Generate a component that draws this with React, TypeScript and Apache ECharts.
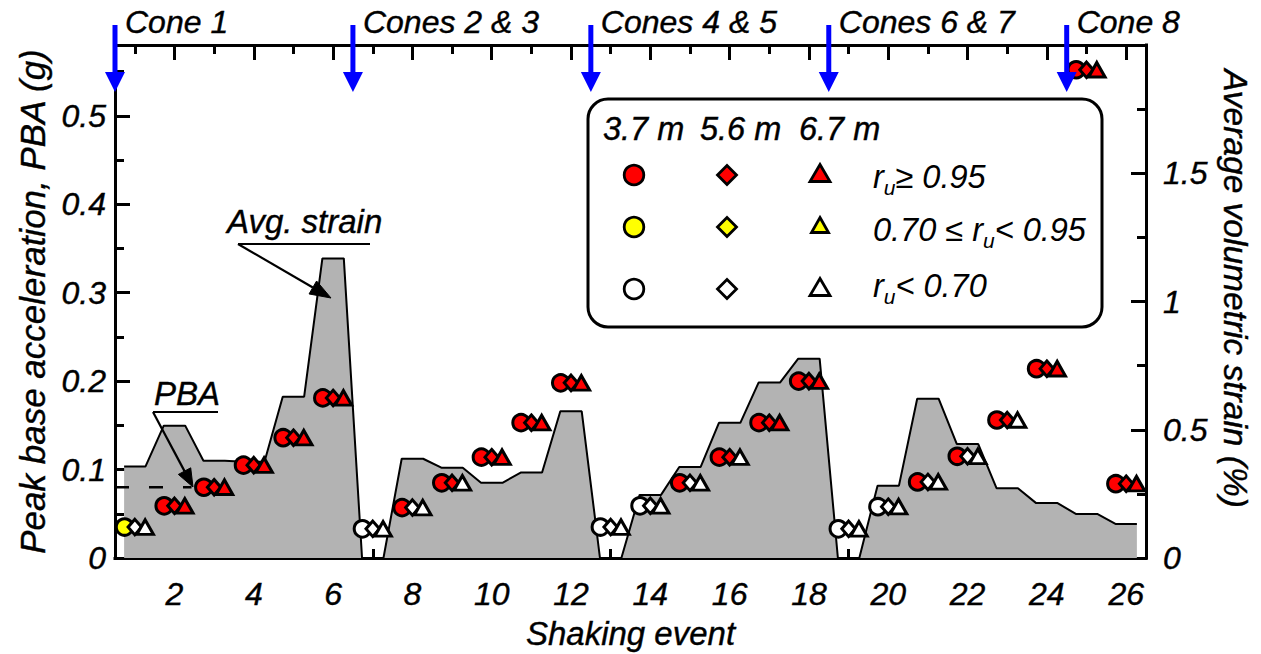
import React, { useEffect, useRef } from "react";
import * as echarts from "echarts";

const FONT = '"Liberation Sans", Arial, Helvetica, sans-serif';

// ---------- data ----------
const events = [1, 2, 3, 4, 5, 6, 7, 8, 9, 10, 11, 12, 13, 14, 15, 16, 17, 18, 19, 20, 21, 22, 23, 24, 25, 26];
const pba = [0.035, 0.059, 0.080, 0.105, 0.136, 0.181, 0.033, 0.057, 0.085, 0.114, 0.153, 0.198, 0.035,
  0.059, 0.085, 0.114, 0.153, 0.200, 0.033, 0.058, 0.086, 0.115, 0.156, 0.214, 0.552, 0.084];
const avgStrain = [0.357, 0.516, 0.379, 0.375, 0.629, 1.168, 0, 0.387, 0.352, 0.293, 0.333, 0.572, 0,
  0.246, 0.355, 0.527, 0.684, 0.777, 0, 0.282, 0.621, 0.444, 0.272, 0.214, 0.172, 0.133];
// r_u class per event: R = r_u >= 0.95, Y = 0.70 <= r_u < 0.95, W = r_u < 0.70
const ru37 = ["Y", "R", "R", "R", "R", "R", "W", "R", "R", "R", "R", "R", "W", "W", "R", "R", "R", "R", "W", "W", "R", "R", "R", "R", "R", "R"];
const ru56 = ["W", "R", "R", "R", "R", "R", "W", "W", "R", "R", "R", "R", "W", "W", "W", "R", "R", "R", "W", "W", "W", "W", "R", "R", "R", "R"];
const ru67 = ["W", "R", "R", "R", "R", "R", "W", "W", "W", "R", "R", "R", "W", "W", "W", "W", "R", "R", "W", "W", "W", "W", "W", "R", "R", "R"];
const xMajorTicks = [2, 4, 6, 8, 10, 12, 14, 16, 18, 20, 22, 24, 26];
const xMinorTicks = [1, 3, 5, 7, 9, 11, 13, 15, 17, 19, 21, 23, 25];
const coneX = [0.5, 6.5, 12.5, 18.5, 24.5];
const coneLabels = ["Cone 1", "Cones 2 & 3", "Cones 4 & 5", "Cones 6 & 7", "Cone 8"];
const depthLabels = ["3.7 m", "5.6 m", "6.7 m"];
const ruClasses = ["R", "Y", "W"];
const refEventIndex = 2; // event whose PBA is marked by the dashed line
const refLineX = [0.5, 2.43];

const colorOf: Record<string, string> = { R: "#ff0000", Y: "#ffff00", W: "#ffffff" };

const STEP_HALF = 0.27;
const strainPts = events.flatMap((e, i) => [
  [e - STEP_HALF, avgStrain[i]],
  [e + STEP_HALF, avgStrain[i]],
]);

const depthDefs = [
  { name: depthLabels[0], status: ru37, offset: -0.26, symbol: "circle", size: 16.5 as any, z: 3 },
  { name: depthLabels[1], status: ru56, offset: 0, symbol: "diamond", size: [13.5, 15.5] as any, z: 4 },
  { name: depthLabels[2], status: ru67, offset: 0.26, symbol: "triangle", size: [16.5, 14.5] as any, z: 5 },
];

const TB = { textBorderColor: "#000", textBorderWidth: 0.4 };
const labelStyle = { fontSize: 32, fontStyle: "italic", fontFamily: FONT, color: "#000", ...TB };
const nameStyle = { fontSize: 33, fontStyle: "italic", fontFamily: FONT, color: "#000", ...TB };
const axisLineStyle = { color: "#000", width: 3, cap: "square" };

function xAxisDef(position: string, ticks: number[], len: number, line: boolean, labels: boolean, extra: any = {}) {
  return {
    type: "value",
    min: 0.5,
    max: 26.5,
    position,
    axisLine: { show: line, onZero: false, lineStyle: axisLineStyle },
    axisTick: { show: true, inside: true, length: len, lineStyle: { color: "#000", width: 3 }, customValues: ticks },
    axisLabel: labels ? { show: true, customValues: ticks, margin: 20, ...labelStyle } : { show: false },
    splitLine: { show: false },
    minorTick: { show: false },
    ...extra,
  };
}

const option: any = {
  animation: false,
  backgroundColor: "#ffffff",
  grid: { left: 115, right: 115, top: 45, bottom: 96, containLabel: false, outerBoundsMode: "none" },
  xAxis: [
    xAxisDef("bottom", xMajorTicks, 15, true, true, {
      name: "Shaking event",
      nameLocation: "middle",
      nameGap: 59,
      nameTextStyle: nameStyle,
    }),
    xAxisDef("bottom", xMinorTicks, 9, false, false),
    xAxisDef("top", xMajorTicks, 15, true, false),
    xAxisDef("top", xMinorTicks, 9, false, false),
  ],
  yAxis: [
    {
      type: "value",
      position: "left",
      min: 0,
      max: 0.58,
      interval: 0.1,
      axisLine: { show: true, onZero: false, lineStyle: axisLineStyle },
      axisTick: { show: true, inside: true, length: 15, lineStyle: { color: "#000", width: 3 } },
      minorTick: { show: true, splitNumber: 2, length: 9, lineStyle: { color: "#000", width: 3 } },
      axisLabel: { show: true, margin: 9, showMaxLabel: false, ...labelStyle },
      splitLine: { show: false },
      name: "Peak base acceleration, PBA (g)",
      nameLocation: "middle",
      nameRotate: 90,
      nameGap: 64,
      nameTextStyle: { ...nameStyle, fontSize: 35 },
    },
    {
      type: "value",
      position: "right",
      min: 0,
      max: 2,
      interval: 0.5,
      axisLine: { show: true, onZero: false, lineStyle: axisLineStyle },
      axisTick: { show: true, inside: true, length: 15, lineStyle: { color: "#000", width: 3 } },
      minorTick: { show: true, splitNumber: 2, length: 9, lineStyle: { color: "#000", width: 3 } },
      axisLabel: { show: true, margin: 17, showMaxLabel: false, ...labelStyle },
      splitLine: { show: false },
      name: "Average volumetric strain (%)",
      nameLocation: "middle",
      nameRotate: -90,
      nameGap: 70,
      nameTextStyle: { ...nameStyle, fontSize: 33.5, padding: [0, 26, 0, 0] },
    },
  ],
  series: [
    {
      name: "Avg. strain",
      type: "line",
      xAxisIndex: 0,
      yAxisIndex: 1,
      data: strainPts,
      symbol: "none",
      silent: true,
      z: 1,
      lineStyle: { color: "#000", width: 2 },
      areaStyle: { color: "#b3b3b3", opacity: 1 },
    },
    {
      name: "PBA reference",
      type: "line",
      xAxisIndex: 0,
      yAxisIndex: 0,
      data: refLineX.map((x) => [x, pba[refEventIndex]]),
      symbol: "none",
      silent: true,
      z: 2,
      lineStyle: { color: "#000", width: 2.5, type: [14, 20] },
    },
    ...depthDefs.map((d) => ({
      name: d.name,
      type: "scatter",
      xAxisIndex: 0,
      yAxisIndex: 0,
      symbol: d.symbol,
      symbolSize: d.size,
      z: d.z,
      silent: true,
      itemStyle: { borderColor: "#000", borderWidth: 3, opacity: 1 },
      data: events.map((e, i) => ({
        value: [e + d.offset, pba[i]],
        itemStyle: { color: colorOf[d.status[i]] },
      })),
    })),
  ],
};

function txt(text: string, x: number, y: number, size: number, align = "left", extra: any = {}) {
  return {
    type: "text",
    x,
    y,
    z: 100,
    silent: true,
    style: {
      text,
      fontSize: size,
      fontStyle: "italic",
      fontFamily: FONT,
      fill: "#000",
      stroke: "#000",
      lineWidth: 0.4,
      align,
      verticalAlign: "middle",
      ...extra,
    },
  };
}

function richTxt(text: string, x: number, y: number) {
  const base = { fontStyle: "italic", fontFamily: FONT, fill: "#000" };
  return {
    type: "text",
    x,
    y,
    z: 100,
    silent: true,
    style: {
      text,
      align: "left",
      verticalAlign: "middle",
      fill: "#000",
      rich: {
        m: { ...base, fontSize: 32.5, lineHeight: 42 },
        s: { ...base, fontSize: 21, lineHeight: 21, verticalAlign: "bottom" },
      },
    },
  };
}

function calloutArrow(x1: number, y1: number, x2: number, y2: number, headLen: number, headHalf: number) {
  const dx = x2 - x1;
  const dy = y2 - y1;
  const L = Math.hypot(dx, dy);
  const ux = dx / L;
  const uy = dy / L;
  const bx = x2 - ux * headLen;
  const by = y2 - uy * headLen;
  return [
    { type: "line", z: 100, silent: true, shape: { x1, y1, x2: bx, y2: by }, style: { stroke: "#000", lineWidth: 2.2 } },
    {
      type: "polygon",
      z: 100,
      silent: true,
      shape: { points: [[x2, y2], [bx - uy * headHalf, by + ux * headHalf], [bx + uy * headHalf, by - ux * headHalf]] },
      style: { fill: "#000", stroke: "#000", lineWidth: 1 },
    },
  ];
}

function legendMarker(kind: string, cx: number, cy: number, fill: string, small = false): any {
  const style = { fill, stroke: "#000", lineWidth: 2.8 };
  if (kind === "circle") return { type: "circle", z: 101, silent: true, shape: { cx, cy, r: 9.8 }, style };
  if (kind === "diamond")
    return {
      type: "polygon", z: 101, silent: true,
      shape: { points: [[cx, cy - 9.5], [cx + 9.5, cy], [cx, cy + 9.5], [cx - 9.5, cy]] },
      style,
    };
  const hw = small ? 8.5 : 10;
  const h = small ? 15 : 17;
  return {
    type: "polygon", z: 101, silent: true,
    shape: { points: [[cx, cy - h / 2 - 2], [cx + hw, cy + h / 2 - 2], [cx - hw, cy + h / 2 - 2]] },
    style,
  };
}

export default function App() {
  const ref = useRef<HTMLDivElement>(null);
  useEffect(() => {
    const chart = echarts.init(ref.current!, null, { renderer: "svg" });
    chart.setOption(option);

    const g: any[] = [];
    // cone arrows
    coneX.forEach((cx, i) => {
      const x = chart.convertToPixel({ xAxisIndex: 0 }, cx) as number;
      g.push({ type: "line", z: 110, silent: true, shape: { x1: x, y1: 25, x2: x, y2: 76 }, style: { stroke: "#0000ff", lineWidth: 5 } });
      g.push({
        type: "polygon", z: 110, silent: true,
        shape: { points: [[x - 10, 72], [x + 10, 72], [x, 92]] },
        style: { fill: "#0000ff" },
      });
      g.push(txt(coneLabels[i], x + 10, 21.5, 32));
    });

    // annotations
    g.push(txt("Avg. strain", 227, 221.5, 33));
    g.push({ type: "line", z: 100, silent: true, shape: { x1: 238, y1: 244, x2: 370, y2: 244 }, style: { stroke: "#000", lineWidth: 2.2 } });
    g.push(...calloutArrow(238, 244, 331, 298, 21, 7.5));
    g.push(txt("PBA", 154, 393.5, 33));
    g.push({ type: "line", z: 100, silent: true, shape: { x1: 153, y1: 412, x2: 218, y2: 412 }, style: { stroke: "#000", lineWidth: 2.2 } });
    g.push(...calloutArrow(153, 412, 193, 487, 18, 7));

    // legend box
    g.push({
      type: "rect", z: 99, silent: true,
      shape: { x: 588, y: 99, width: 514, height: 228, r: 20 },
      style: { fill: "#fff", stroke: "#000", lineWidth: 3 },
    });
    const colX = [603, 700, 799];
    depthLabels.forEach((t, i) => g.push(txt(t, colX[i], 129, 32.5)));
    const markerX = [634, 727, 820];
    const rowY = [175, 227, 289];
    const kinds = ["circle", "diamond", "triangle"];
    ruClasses.forEach((c, r) => {
      kinds.forEach((k, j) => g.push(legendMarker(k, markerX[j], rowY[r], colorOf[c], r === 1)));
    });
    g.push(richTxt("{m|r}{s|u}{m|≥ 0.95}", 873, 176.5));
    g.push(richTxt("{m|0.70 ≤ r}{s|u}{m|< 0.95}", 873, 230));
    g.push(richTxt("{m|r}{s|u}{m|< 0.70}", 873, 286));

    chart.setOption({ graphic: g });
    return () => chart.dispose();
  }, []);
  return <div ref={ref} style={{ position: "absolute", left: 0, top: 0, width: 1261, height: 654 }} />;
}
